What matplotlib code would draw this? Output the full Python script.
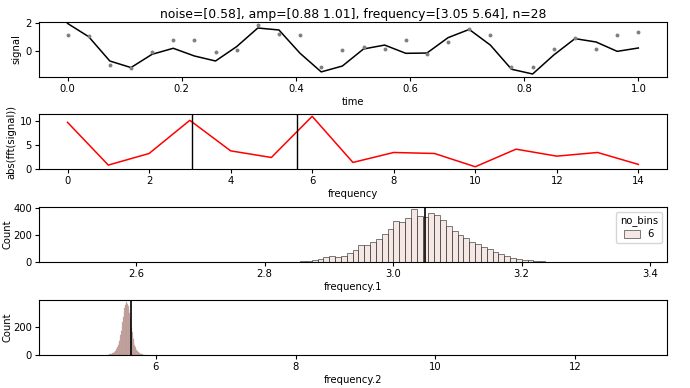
import numpy as np
import matplotlib
matplotlib.use("Agg")
import matplotlib.pyplot as plt
from matplotlib.patches import Patch

# ---------------- data ----------------
title_text = "noise=[0.58], amp=[0.88 1.01], frequency=[3.05 5.64], n=28"
n_points = 28
time = np.linspace(0, 1, n_points)
signal_clean = [1.95, 1.00, -0.74, -1.21, -0.26, 0.17, -0.38, -0.74, 0.29, 1.62,
                1.48, -0.19, -1.52, -1.10, 0.12, 0.40, -0.19, -0.17, 0.93, 1.52,
                0.40, -1.33, -1.67, -0.31, 0.86, 0.62, -0.05, 0.19]
signal_noisy = [1.12, 1.05, -1.02, -1.21, -0.07, 0.74, 0.74, -0.12, 0.05, 1.86,
                1.17, 1.14, -1.14, 0.02, 0.26, 0.14, 0.74, -0.26, 0.60, 1.52,
                1.14, -1.17, -1.17, 0.14, 0.90, 0.14, 1.12, 1.31]

fft_freq = list(range(15))
fft_abs = [9.65, 0.76, 3.17, 10.07, 3.72, 2.34, 10.9, 1.31, 3.38, 3.17,
           0.41, 4.07, 2.62, 3.38, 0.90]
true_freqs = [3.05, 5.64]

# histogram of frequency.1
f1_binwidth = 0.00908
f1_first_edge = 3.0005 - 18 * 0.00908
f1_counts = [2, 3, 5, 8, 12, 24, 36, 45, 34, 44, 66, 92, 128, 122, 146, 172, 205, 241,
             302, 297, 321, 388, 337, 332, 363, 345, 309, 265, 229, 200, 175, 150,
             135, 110, 93, 72, 57, 44, 33, 25, 18, 13, 8, 5, 3, 2, 1, 0, 2]
f1_xlim = (2.449, 3.426)

# histogram of frequency.2
f2_binwidth = 0.0091
f2_first_edge = 5.2955
f2_counts = [1, 2, 2, 3, 4, 5, 6, 8, 10, 12, 15, 18, 22, 27, 32, 40, 48, 58, 70, 85,
             100, 120, 145, 175, 205, 240, 275, 310, 340, 362, 375, 381, 378, 370, 355,
             330, 300, 265, 230, 195, 165, 138, 112, 92, 75, 60, 48, 38, 30, 24, 19,
             15, 12, 9, 7, 5, 4, 3, 2, 2, 1, 1, 1, 0, 1]
f2_outliers = [4.75, 4.88, 4.97, 5.06, 5.14, 5.21, 6.45, 6.8, 7.15, 7.45, 7.7, 8.0,
               8.3, 8.55, 8.8, 9.2, 9.5, 9.85, 10.0, 10.3, 10.6, 11.1, 11.5, 11.8,
               12.0, 12.2, 12.5, 12.9]
f2_xlim = (4.33, 13.31)

legend_title = "no_bins"
legend_label = "6"

# ---------------- style ----------------
plt.rcParams['font.family'] = ['DejaVu Sans']
fs = 7.2
face = (0.929, 0.820, 0.796, 0.5)
edge = (0.2, 0.2, 0.2, 0.75)
face4 = (0.80, 0.66, 0.63, 0.9)
edge4 = (0.55, 0.45, 0.43, 0.35)

fig = plt.figure(figsize=(6.9, 3.88), dpi=100)
left, width, h = 0.0565, 0.910, 0.143
bottoms = [0.801, 0.5637, 0.3247, 0.085]
axs = [fig.add_axes([left, b, width, h]) for b in bottoms]

for ax in axs:
    ax.tick_params(labelsize=fs, length=3, width=0.8, pad=2)
    for s in ax.spines.values():
        s.set_linewidth(0.8)

# panel 1
ax = axs[0]
ax.plot(time, signal_clean, color='black', lw=1.1)
ax.scatter(time, signal_noisy, color='gray', s=8, zorder=3, linewidths=0)
ax.set_ylim(-1.9, 2.07)
ax.set_yticks([0, 2])
ax.set_xlabel("time", fontsize=fs, labelpad=2)
ax.set_ylabel("signal", fontsize=fs, labelpad=3)
ax.set_title(title_text, fontsize=8.9, pad=3)

# panel 2
ax = axs[1]
ax.plot(fft_freq, fft_abs, color='red', lw=1.1)
for f in true_freqs:
    ax.axvline(f, color='black', lw=1.0)
ax.set_yticks([0, 5, 10])
ax.set_xticks(range(0, 15, 2))
ax.set_xlabel("frequency", fontsize=fs, labelpad=2)
ax.set_ylabel("abs(fft(signal))", fontsize=fs, labelpad=2)

# panel 3
ax = axs[2]
e1 = f1_first_edge + f1_binwidth * np.arange(len(f1_counts))
ax.bar(e1, f1_counts, width=f1_binwidth, align='edge', facecolor=face,
       edgecolor=edge, linewidth=0.6)
ax.axvline(true_freqs[0], color='black', lw=1.2)
ax.set_xlim(*f1_xlim)
ax.set_ylim(0, 408)
ax.set_yticks([0, 200, 400])
ax.set_xticks([2.6, 2.8, 3.0, 3.2, 3.4])
ax.set_xlabel("frequency.1", fontsize=fs, labelpad=2)
ax.set_ylabel("Count", fontsize=fs, labelpad=0.5)
leg = ax.legend(handles=[Patch(facecolor=face, edgecolor=edge, linewidth=0.6)],
                labels=[legend_label], title=legend_title, loc='upper right',
                fontsize=fs, title_fontsize=fs, handlelength=1.6, handleheight=0.8,
                borderpad=0.4, labelspacing=0.3, framealpha=0.8)

# panel 4
ax = axs[3]
e2 = f2_first_edge + f2_binwidth * np.arange(len(f2_counts))
ax.bar(e2, f2_counts, width=f2_binwidth, align='edge', facecolor=face4,
       edgecolor=edge4, linewidth=0.3)
ax.bar(f2_outliers, [1] * len(f2_outliers), width=f2_binwidth, align='edge',
       facecolor=face4, edgecolor=(0.5, 0.5, 0.5, 0.5), linewidth=0.5)
ax.axvline(true_freqs[1], color='black', lw=1.2)
ax.set_xlim(*f2_xlim)
ax.set_ylim(0, 400)
ax.set_yticks([0, 200])
ax.set_xticks([6, 8, 10, 12])
ax.set_xlabel("frequency.2", fontsize=fs, labelpad=2)
ax.set_ylabel("Count", fontsize=fs, labelpad=0.5)

fig.savefig("out.png", dpi=100)
